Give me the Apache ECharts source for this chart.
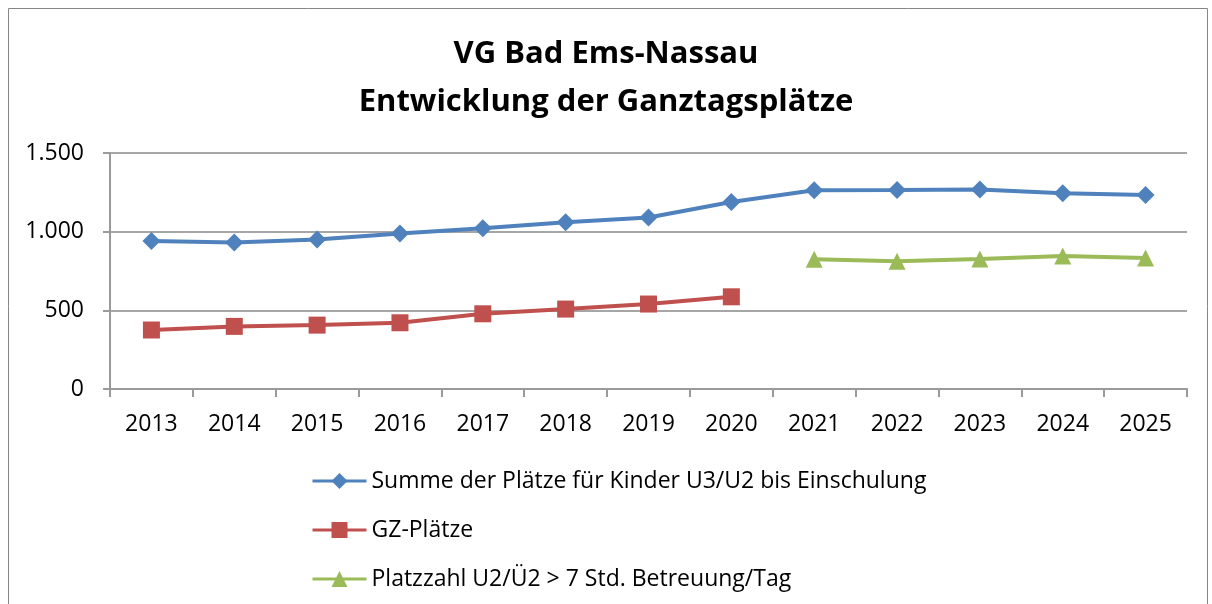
<!DOCTYPE html>
<html>
<head>
<meta charset="utf-8">
<script src="https://cdn.jsdelivr.net/npm/echarts@6/dist/echarts.min.js"></script>
<style>
  html, body { margin: 0; padding: 0; background: #fff; }
  #chart { width: 1212px; height: 604px; }
</style>
</head>
<body>
<div id="chart"></div>
<script>
var years = ['2013', '2014', '2015', '2016', '2017', '2018', '2019', '2020', '2021', '2022', '2023', '2024', '2025'];
var summePlaetze = [941, 931, 950, 988, 1022, 1060, 1090, 1189, 1263, 1265, 1268, 1244, 1233];
var gzPlaetze = [375, 398, 406, 421, 478, 508, 540, 586, null, null, null, null, null];
var platzzahl = [null, null, null, null, null, null, null, null, 825, 812, 826, 846, 832];

var seriesNames = [
    'Summe der Plätze für Kinder U3/U2 bis Einschulung',
    'GZ-Plätze',
    'Platzzahl U2/Ü2 > 7 Std. Betreuung/Tag'
];

var fontName = 'Open Sans';

var myChart = echarts.init(document.getElementById('chart'), null, { renderer: 'canvas' });

var option = {
    animation: false,
    textStyle: { fontFamily: fontName },
    title: {
        text: 'VG Bad Ems-Nassau\nEntwicklung der Ganztagsplätze',
        left: 'center',
        top: 25,
        textStyle: {
            fontFamily: fontName,
            fontSize: 31,
            fontWeight: 'bold',
            color: '#000',
            lineHeight: 48
        }
    },
    graphic: [{
        type: 'rect',
        shape: { x: 8.5, y: 8.5, width: 1199, height: 640 },
        style: { fill: 'none', stroke: '#868686', lineWidth: 1 },
        silent: true
    }],
    legend: {
        orient: 'vertical',
        left: 306,
        top: 464,
        itemGap: 25,
        itemWidth: 54,
        itemHeight: 20,
        lineStyle: { width: 3 },
        textStyle: { fontFamily: fontName, fontSize: 23, lineHeight: 24, color: '#000' },
        data: seriesNames
    },
    grid: {
        left: 110,
        right: 25,
        top: 153,
        bottom: 215,
        containLabel: false
    },
    xAxis: {
        type: 'category',
        data: years,
        boundaryGap: true,
        axisLine: { lineStyle: { color: '#9a9a9a', width: 2 } },
        axisTick: { show: true, length: 8, lineStyle: { color: '#9a9a9a', width: 2 } },
        axisLabel: { color: '#000', fontSize: 23, margin: 24, fontFamily: fontName }
    },
    yAxis: {
        type: 'value',
        min: 0,
        max: 1500,
        interval: 500,
        axisLine: { show: true, lineStyle: { color: '#9a9a9a', width: 2 } },
        axisTick: { show: true, length: 7, lineStyle: { color: '#9a9a9a', width: 2 } },
        splitLine: { lineStyle: { color: '#a6a6a6', width: 2 } },
        axisLabel: {
            color: '#000',
            fontSize: 23,
            margin: 26,
            fontFamily: fontName,
            formatter: function (v) {
                return v.toString().replace(/\B(?=(\d{3})+(?!\d))/g, '.');
            }
        }
    },
    series: [
        {
            name: seriesNames[0],
            type: 'line',
            data: summePlaetze,
            symbol: 'diamond',
            symbolSize: 18,
            connectNulls: false,
            lineStyle: { color: '#4f81bd', width: 4 },
            itemStyle: { color: '#4f81bd' }
        },
        {
            name: seriesNames[1],
            type: 'line',
            data: gzPlaetze,
            symbol: 'rect',
            symbolSize: 17,
            connectNulls: false,
            lineStyle: { color: '#c0504d', width: 4 },
            itemStyle: { color: '#c0504d' }
        },
        {
            name: seriesNames[2],
            type: 'line',
            data: platzzahl,
            symbol: 'triangle',
            symbolSize: 17,
            connectNulls: false,
            lineStyle: { color: '#9bbb59', width: 4 },
            itemStyle: { color: '#9bbb59' }
        }
    ]
};

myChart.setOption(option);
window.addEventListener('resize', myChart.resize);
</script>
</body>
</html>
